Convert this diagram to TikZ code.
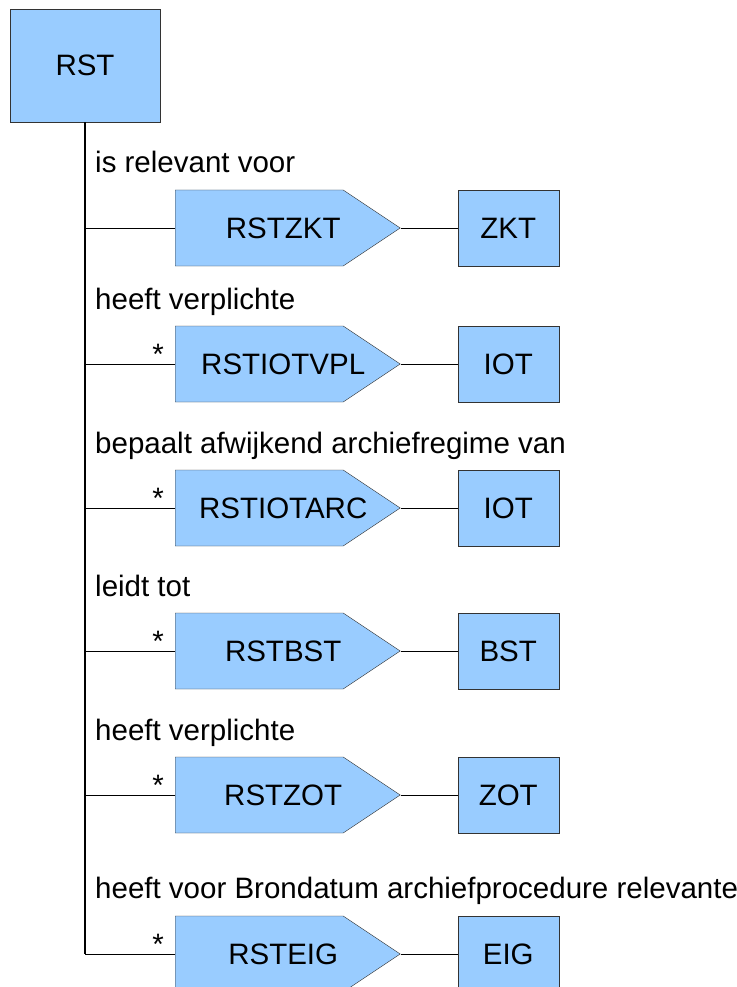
\documentclass[tikz,border=0pt]{standalone}
\usepackage{fontspec}
\setmainfont{Liberation Sans}
\usetikzlibrary{shapes.symbols,positioning}
\definecolor{boxblue}{HTML}{99CCFF}
\definecolor{edgegray}{HTML}{333333}

\begin{document}
\begin{tikzpicture}[
		x=1pt,y=-1pt,
		every node/.style={font=\fontsize{29.5}{35}\selectfont},
		entity/.style={rectangle,draw=edgegray,fill=boxblue,minimum width=101pt,minimum height=76pt,inner sep=0pt},
		relation/.style={signal,signal to=east,signal pointer angle=67.4,draw=edgegray,fill=boxblue,
			text width=168pt,minimum height=76pt,inner sep=0pt,anchor=west,
			label={[xshift=24pt]center:#1}},
		rolelabel/.style={anchor=base west,inner sep=0pt},
		mult/.style={anchor=base,inner sep=0pt},
		link/.style={draw=black,line width=1pt},
		trunk/.style={draw=black,line width=2pt}
		]
		\useasboundingbox (0,0) rectangle (736,987);
		\node[entity,minimum width=150pt,minimum height=113pt] (RST) at (85,65.5) {RST};
		
		\node[relation=RSTZKT] (RSTZKT) at (175,228) {};
		\node[entity,right=57pt of RSTZKT] (ZKT) {ZKT};
		\node[rolelabel] (lab1) at (95,173) {is relevant voor};
		
		\node[relation=RSTIOTVPL] (RSTIOTVPL) at (175,364) {};
		\node[entity,right=57pt of RSTIOTVPL] (IOT1) {IOT};
		\node[rolelabel] (lab2) at (95,309) {heeft verplichte};
		\node[mult] (m2) at (158,364) {*};
		
		\node[relation=RSTIOTARC] (RSTIOTARC) at (175,508) {};
		\node[entity,right=57pt of RSTIOTARC] (IOT2) {IOT};
		\node[rolelabel] (lab3) at (95,453) {bepaalt afwijkend archiefregime van};
		\node[mult] (m3) at (158,508) {*};
		
		\node[relation=RSTBST] (RSTBST) at (175,651) {};
		\node[entity,right=57pt of RSTBST] (BST) {BST};
		\node[rolelabel] (lab4) at (95,596) {leidt tot};
		\node[mult] (m4) at (158,651) {*};
		
		\node[relation=RSTZOT] (RSTZOT) at (175,795) {};
		\node[entity,right=57pt of RSTZOT] (ZOT) {ZOT};
		\node[rolelabel] (lab5) at (95,740) {heeft verplichte};
		\node[mult] (m5) at (158,795) {*};
		
		\node[relation=RSTEIG] (RSTEIG) at (175,954) {};
		\node[entity,right=57pt of RSTEIG] (EIG) {EIG};
		\node[rolelabel] (lab6) at (95,898) {heeft voor Brondatum archiefprocedure relevante};
		\node[mult] (m6) at (158,954) {*};
		
		% trunk and branches
		\draw[trunk] (RST.south) -- (RST.south |- RSTEIG.west);
		\draw[link] (RST.south |- RSTZKT.west) -- (RSTZKT.west);
		\draw[link] (RST.south |- RSTIOTVPL.west) -- (RSTIOTVPL.west);
		\draw[link] (RST.south |- RSTIOTARC.west) -- (RSTIOTARC.west);
		\draw[link] (RST.south |- RSTBST.west) -- (RSTBST.west);
		\draw[link] (RST.south |- RSTZOT.west) -- (RSTZOT.west);
		\draw[link] (RST.south |- RSTEIG.west) -- (RSTEIG.west);
		
		\draw[link] (RSTZKT.east) -- (ZKT.west);
		\draw[link] (RSTIOTVPL.east) -- (IOT1.west);
		\draw[link] (RSTIOTARC.east) -- (IOT2.west);
		\draw[link] (RSTBST.east) -- (BST.west);
		\draw[link] (RSTZOT.east) -- (ZOT.west);
		\draw[link] (RSTEIG.east) -- (EIG.west);
	\end{tikzpicture}
\end{document}
